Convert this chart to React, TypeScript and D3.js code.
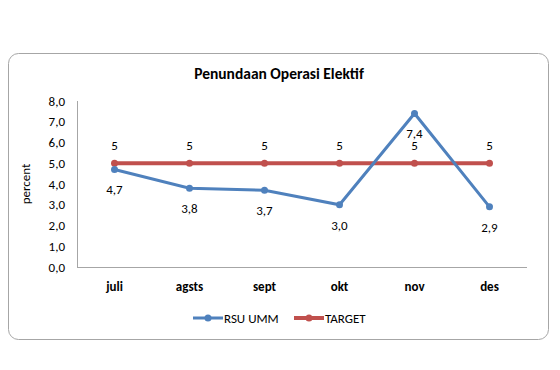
import { useRef, useEffect } from 'react'
import * as d3 from 'd3'

const months = ['juli', 'agsts', 'sept', 'okt', 'nov', 'des']
const rsuUmm = [4.7, 3.8, 3.7, 3.0, 7.4, 2.9]
const target = [5, 5, 5, 5, 5, 5]
const yTicks = [0, 1, 2, 3, 4, 5, 6, 7, 8]

const font = 'Carlito, Lato, "Open Sans", sans-serif'

const App = () => {
  const chartRef = useRef<SVGGElement>(null)

  useEffect(() => {
    const g = d3.select(chartRef.current)
    g.selectAll('*').remove()

    const x = d3.scaleBand().domain(months).range([77, 527])
    const y = d3.scaleLinear().domain([0, 8]).range([267, 101])
    const cx = (d: string) => (x(d) as number) + x.bandwidth() / 2
    const fmt = (v: number) => v.toFixed(1).replace('.', ',')

    // frame
    g.append('rect')
      .attr('x', 8.5).attr('y', 53.5).attr('width', 540).attr('height', 286)
      .attr('rx', 10).attr('fill', '#fff').attr('stroke', '#a6a6a6')

    g.append('text')
      .attr('x', 279).attr('y', 79)
      .attr('text-anchor', 'middle')
      .attr('font-weight', 'bold').attr('font-size', 15.5)
      .text('Penundaan Operasi Elektif')

    // axes
    g.append('line')
      .attr('x1', 77.5).attr('x2', 77.5).attr('y1', 101).attr('y2', 267)
      .attr('stroke', '#a6a6a6')
    g.append('line')
      .attr('x1', 77).attr('x2', 527).attr('y1', 267.5).attr('y2', 267.5)
      .attr('stroke', '#a6a6a6')

    g.selectAll('.ytick').data(yTicks).enter().append('text')
      .attr('x', 65).attr('y', d => y(d) + 4.5)
      .attr('text-anchor', 'end').attr('font-size', 13)
      .text(d => fmt(d))

    g.append('text')
      .attr('transform', 'translate(30,184) rotate(-90)')
      .attr('text-anchor', 'middle').attr('font-size', 13)
      .text('percent')

    g.selectAll('.xtick').data(months).enter().append('text')
      .attr('x', d => cx(d)).attr('y', 291)
      .attr('text-anchor', 'middle').attr('font-size', 13).attr('font-weight', 'bold')
      .text(d => d)

    const line = d3.line<number>()
      .x((_, i) => cx(months[i]))
      .y(d => y(d))

    const series = [
      { name: 'RSU UMM', values: rsuUmm, color: '#4f81bd', width: 3, r: 3.5, dy: 25, label: (v: number) => fmt(v) },
      { name: 'TARGET', values: target, color: '#c0504d', width: 4, r: 3.5, dy: -13, label: (v: number) => String(v) },
    ]

    // target first so RSU UMM draws over it
    ;[series[1], series[0]].forEach(s => {
      g.append('path').datum(s.values)
        .attr('d', line).attr('fill', 'none')
        .attr('stroke', s.color).attr('stroke-width', s.width)
      g.selectAll(null).data(s.values).enter().append('circle')
        .attr('cx', (_, i) => cx(months[i])).attr('cy', d => y(d))
        .attr('r', s.r).attr('fill', s.color)
    })

    series.forEach(s => {
      g.selectAll(null).data(s.values).enter().append('text')
        .attr('x', (_, i) => cx(months[i])).attr('y', d => y(d) + s.dy)
        .attr('text-anchor', 'middle').attr('font-size', 13)
        .text(d => s.label(d))
    })

    // legend
    const legendX = [193, 294]
    series.forEach((s, i) => {
      const lx = legendX[i]
      g.append('line')
        .attr('x1', lx).attr('x2', lx + 30).attr('y1', 318).attr('y2', 318)
        .attr('stroke', s.color).attr('stroke-width', s.width)
      g.append('circle').attr('cx', lx + 15).attr('cy', 318).attr('r', s.r).attr('fill', s.color)
      g.append('text')
        .attr('x', lx + 31).attr('y', 322.5).attr('font-size', 13)
        .text(s.name)
    })
  })

  return (
    <svg
      width={560} height={370}
      style={{ position: 'absolute', left: 0, top: 0, fontFamily: font }}
    >
      <rect width={560} height={370} fill="#fff" />
      <g ref={chartRef} fill="#000"></g>
    </svg>
  )
}

export default App
